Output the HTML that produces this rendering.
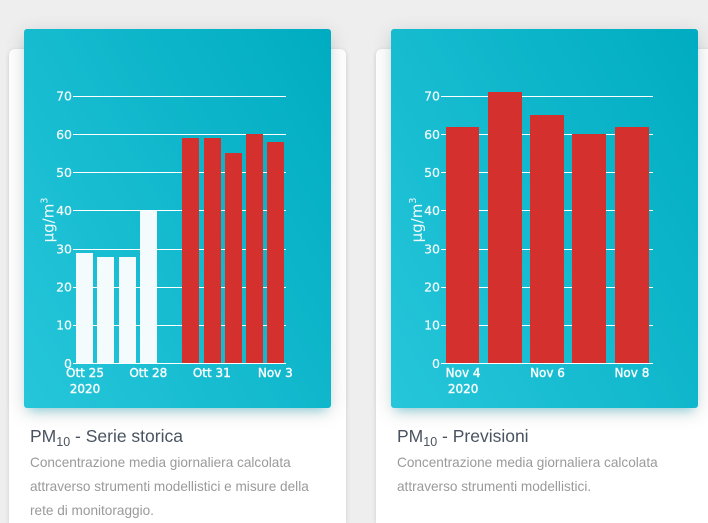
<!DOCTYPE html>
<html><head><meta charset="utf-8">
<style>
html,body{margin:0;padding:0;width:708px;height:523px;overflow:hidden;}
body{background:#eeeeee;position:relative;font-family:"Liberation Sans",sans-serif;}
.card{position:absolute;top:49px;height:474px;background:#fff;border-radius:6px 6px 0 0;box-shadow:0 1px 4px 0 rgba(0,0,0,.14);}
.hdr{position:absolute;top:29px;width:307px;height:379px;border-radius:3px;background:linear-gradient(60deg,#26c6da,#00acc1);box-shadow:0 4px 20px 0 rgba(0,0,0,.14),0 7px 10px -5px rgba(0,188,212,.4);}
.title{position:absolute;top:425px;font-size:17.5px;line-height:22px;color:#4a5360;white-space:nowrap;}
.title sub{font-size:12.5px;vertical-align:-4px;line-height:0;}
.desc{position:absolute;top:451px;font-size:13.6px;line-height:24px;color:#9a9a9a;width:300px;}
svg{position:absolute;left:0;top:0;}
</style></head><body>
<div class="card" style="left:9px;width:337px;"></div>
<div class="card" style="left:376px;width:340px;"></div>
<div class="hdr" style="left:24px;"></div>
<div class="hdr" style="left:391px;"></div>

<div class="title" style="left:30px;">PM<sub>10</sub> - Serie storica</div>
<div class="desc" style="left:30px;">Concentrazione media giornaliera calcolata attraverso strumenti modellistici e misure della rete di monitoraggio.</div>
<div class="title" style="left:397px;">PM<sub>10</sub> - Previsioni</div>
<div class="desc" style="left:397px;">Concentrazione media giornaliera calcolata attraverso strumenti modellistici.</div>

<svg width="708" height="523" viewBox="0 0 708 523" xmlns="http://www.w3.org/2000/svg">
<g stroke="#ffffff" stroke-width="1" shape-rendering="crispEdges">
  <line x1="73" x2="286" y1="96.5" y2="96.5"/>
  <line x1="73" x2="286" y1="134.5" y2="134.5"/>
  <line x1="73" x2="286" y1="172.5" y2="172.5"/>
  <line x1="73" x2="286" y1="210.5" y2="210.5"/>
  <line x1="73" x2="286" y1="249.5" y2="249.5"/>
  <line x1="73" x2="286" y1="287.5" y2="287.5"/>
  <line x1="73" x2="286" y1="325.5" y2="325.5"/>
  <line x1="441" x2="653" y1="96.5" y2="96.5"/>
  <line x1="441" x2="653" y1="134.5" y2="134.5"/>
  <line x1="441" x2="653" y1="172.5" y2="172.5"/>
  <line x1="441" x2="653" y1="210.5" y2="210.5"/>
  <line x1="441" x2="653" y1="249.5" y2="249.5"/>
  <line x1="441" x2="653" y1="287.5" y2="287.5"/>
  <line x1="441" x2="653" y1="325.5" y2="325.5"/>
</g>
<g shape-rendering="crispEdges">
  <rect x="76" y="253" width="17" height="111" fill="#f3fbfc"/>
  <rect x="97" y="257" width="17" height="107" fill="#f3fbfc"/>
  <rect x="119" y="257" width="17" height="107" fill="#f3fbfc"/>
  <rect x="140" y="211" width="17" height="153" fill="#f3fbfc"/>
  <rect x="182" y="138" width="17" height="226" fill="#d3302e"/>
  <rect x="204" y="138" width="17" height="226" fill="#d3302e"/>
  <rect x="225" y="153" width="17" height="211" fill="#d3302e"/>
  <rect x="246" y="134" width="17" height="230" fill="#d3302e"/>
  <rect x="267" y="142" width="17" height="222" fill="#d3302e"/>
  <rect x="446" y="127" width="33" height="237" fill="#d3302e"/>
  <rect x="488" y="92" width="34" height="272" fill="#d3302e"/>
  <rect x="530" y="115" width="34" height="249" fill="#d3302e"/>
  <rect x="572" y="134" width="34" height="230" fill="#d3302e"/>
  <rect x="615" y="127" width="34" height="237" fill="#d3302e"/>
</g>
<g stroke="#ffffff" stroke-width="1" shape-rendering="crispEdges">
  <line x1="73" x2="286" y1="363.5" y2="363.5"/>
  <line x1="441" x2="653" y1="363.5" y2="363.5"/>
</g>
<g font-family="'DejaVu Sans',Verdana,sans-serif" font-size="12.5" fill="#f2fbfc" stroke="#f2fbfc" stroke-width="0.2" text-anchor="end">
  <text x="72" y="100.5">70</text>
  <text x="72" y="139">60</text>
  <text x="72" y="177">50</text>
  <text x="72" y="215">40</text>
  <text x="72" y="253.5">30</text>
  <text x="72" y="291.5">20</text>
  <text x="72" y="329.5">10</text>
  <text x="72" y="368">0</text>
  <text x="440" y="100.5">70</text>
  <text x="440" y="139">60</text>
  <text x="440" y="177">50</text>
  <text x="440" y="215">40</text>
  <text x="440" y="253.5">30</text>
  <text x="440" y="291.5">20</text>
  <text x="440" y="329.5">10</text>
  <text x="440" y="368">0</text>
</g>
<g font-family="'DejaVu Sans',Verdana,sans-serif" font-size="12" fill="#f5fcfd" stroke="#f5fcfd" stroke-width="0.4" text-anchor="middle">
  <text x="85" y="377">Ott 25</text>
  <text x="85" y="393">2020</text>
  <text x="148.3" y="377">Ott 28</text>
  <text x="211.8" y="377">Ott 31</text>
  <text x="275.3" y="377">Nov 3</text>
  <text x="463.1" y="377">Nov 4</text>
  <text x="463.1" y="393">2020</text>
  <text x="547.5" y="377">Nov 6</text>
  <text x="631.9" y="377">Nov 8</text>
</g>
<g font-family="'DejaVu Sans',Verdana,sans-serif" font-size="15" fill="#eefafc" text-anchor="middle">
  <text transform="translate(53.5,220) rotate(-90)">μg/m<tspan font-size="9.5" dy="-6">3</tspan></text>
  <text transform="translate(422,220) rotate(-90)">μg/m<tspan font-size="9.5" dy="-6">3</tspan></text>
</g>
</svg>
</body></html>
